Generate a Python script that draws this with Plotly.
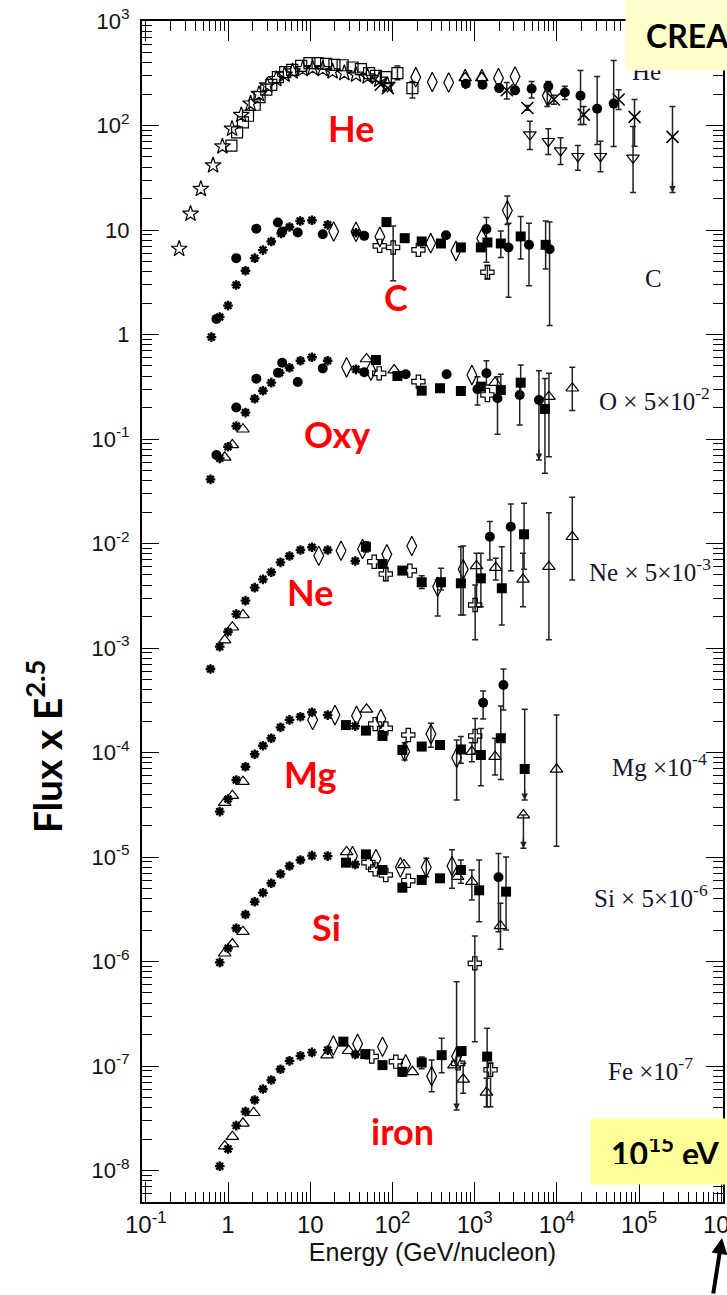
import math
import plotly.graph_objects as go

# Cosmic-ray nuclei spectra, flux x E^2.5 versus kinetic energy per nucleon.
# Points: (E [GeV/n], flux) or (E, flux, lower_end, upper_end) when an error bar is drawn.

HE_STAR = [(0.255, 6.6), (0.35, 14.3), (0.467, 24.7), (0.658, 41.5), (0.855, 63), (1.12, 93),
           (1.45, 126), (1.88, 162), (2.38, 200), (3.0, 242), (3.86, 278), (4.87, 306), (6.1, 329),
           (8.1, 346), (10.7, 354), (14.2, 346), (18.7, 329), (26, 317), (36, 306), (49.8, 294),
           (69, 274), (87, 245)]
HE_OSQ = [(1.10, 64.3), (1.29, 86), (1.52, 107), (1.75, 124), (2.11, 158), (2.42, 187), (2.92, 220),
          (3.36, 245), (4.04, 290), (4.96, 324), (6.03, 341), (7.76, 372), (9.78, 395), (12.3, 395),
          (15.6, 389), (19.7, 381), (24.8, 377), (32.7, 359), (41.4, 346), (52, 317), (63, 299),
          (83, 290), (115, 317, 274, 372), (175, 228, 183, 264)]
HE_TRID = [(57, 284), (87, 237), (4700, 81.9, 58.9, 110), (7870, 70.7, 52.8, 92.9),
           (11100, 57.6, 42.4, 76.2), (18000, 50.8, 37.4, 64.3), (33900, 50.8, 36.1, 70.7),
           (84400, 49.1, 22.8, 98)]
HE_X = [(72, 245), (88, 228), (2460, 217, 179, 258), (4380, 147, 140, 155), (9200, 177, 160, 195),
        (21200, 127, 102, 152), (56400, 177, 142, 220), (88000, 121, 63.4, 177),
        (255000, 77.8, 22.8, 152)]
HE_CIRC = [(782, 251), (1247, 245), (1983, 228), (3100, 217), (4930, 225, 183, 264),
           (7870, 237, 210, 264), (12500, 207, 177, 237), (19400, 193, 102, 336),
           (30900, 145, 65.8, 294), (49100, 162, 63, 419)]
HE_DIA = [(192, 290), (305, 261), (483, 258), (767, 278), (1222, 278), (1950, 284), (3100, 294),
          (7650, 193, 152, 237)]
HE_TRI = [(767, 285), (1222, 286)]

C_AST = [(0.629, 0.944), (0.793, 1.47), (1.0, 1.89), (1.26, 2.98), (1.63, 4.07), (2.11, 5.38),
         (2.66, 6.42), (3.36, 7.77), (4.44, 9.27), (5.6, 10.7), (7.55, 12.2), (10.5, 12.4),
         (16.3, 11.2), (36, 9.4)]
C_CIRC = [(0.723, 1.41), (1.26, 5.38), (2.21, 10.3), (4.04, 11.8), (4.56, 9.68), (7.05, 9.46),
          (14.2, 9.12), (45.4, 8.79), (448, 8.92), (1390, 10.2, 4.9, 13.2), (2580, 6.81, 2.27, 11.6),
          (4580, 7.21, 2.93, 11.6), (8150, 6.56, 1.22, 11.9)]
C_DIA = [(19.3, 9.68), (36, 9.6), (70.3, 8.6), (292, 7.48), (592, 6.32), (1220, 8.3),
         (2500, 15.4, 11.3, 21.1)]
C_SQ = [(84.6, 11.9), (141, 8.35), (227, 7.77), (389, 7.43), (680, 6.81), (1190, 6.81),
        (1430, 7.6), (2080, 7.43, 5.47, 9.8), (3630, 8.67, 5.27, 13.5), (7300, 7.21, 4.23, 12.2)]
C_CROSS = [(70, 7.05), (102, 6.81, 3.27, 10.9), (207, 6.46), (1430, 3.94, 3.4, 4.6)]

O_AST = [(0.612, 0.0411), (0.793, 0.0653), (1.0, 0.0843), (1.26, 0.133), (1.63, 0.179),
         (2.11, 0.243), (2.66, 0.29), (3.36, 0.346), (4.24, 0.431), (5.6, 0.481), (7.6, 0.561),
         (10.5, 0.605), (16.3, 0.561), (36, 0.464)]
O_CIRC = [(0.723, 0.0703), (1.26, 0.2), (2.21, 0.378), (4.04, 0.431), (4.56, 0.537), (7.05, 0.351),
          (14.2, 0.474), (45.4, 0.435), (145, 0.416), (456, 0.416), (1083, 0.3, 0.211, 0.394),
          (1390, 0.425, 0.329, 0.561), (1896, 0.245, 0.111, 0.394), (3530, 0.264, 0.136, 0.367),
          (6050, 0.236, 0.063, 0.451)]
O_TRI = [(0.912, 0.0668), (1.13, 0.0877), (1.52, 0.124), (48.4, 0.583), (105, 0.457),
         (1770, 0.346), (8000, 0.254, 0.0677, 0.425), (15400, 0.306, 0.187, 0.485)]
O_DIA = [(27.7, 0.485), (54.7, 0.451), (925, 0.409)]
O_SQ = [(63, 0.57), (115, 0.401), (227, 0.29), (379, 0.306), (680, 0.288), (1190, 0.317),
        (2080, 0.294, 0.274, 0.416), (3630, 0.346, 0.264, 0.511), (7160, 0.194, 0.047, 0.38)]
O_CROSS = [(69, 0.425), (207, 0.354), (1430, 0.264)]

NE_AST = [(0.612, 6.3e-4), (0.793, 1.03e-3), (1.0, 1.43e-3), (1.26, 2.11e-3), (1.63, 2.84e-3),
          (2.11, 3.78e-3), (2.66, 4.54e-3), (3.36, 5.3e-3), (4.35, 6.6e-3), (5.6, 7.6e-3),
          (7.6, 8.67e-3), (10.5, 9.2e-3), (16.3, 8.67e-3), (35.3, 6.8e-3)]
NE_TRI = [(0.912, 1.19e-3), (1.13, 1.58e-3), (1.52, 2.07e-3), (1054, 0.0061, 0.00248, 0.00805),
          (1807, 0.00587, 0.00448, 0.00721), (3870, 0.00454, 0.00248, 0.00805),
          (8000, 0.006, 0.0012, 0.0197), (15400, 0.0116, 0.00448, 0.0277)]
NE_DIA = [(12.7, 0.00764), (23.7, 0.00853), (43.3, 0.00886), (85.5, 0.00787), (172, 0.00946),
          (355, 0.00386, 0.00202, 0.0045), (726, 0.00566, 0.00207, 0.00946)]
NE_SQ = [(47.6, 0.0093, 0.0083, 0.0104), (75.7, 0.00636), (132, 0.0055), (227, 0.00426, 0.0037, 0.0049),
         (389, 0.00426, 0.00359, 0.0058), (680, 0.00416, 0.00207, 0.0093),
         (1190, 0.00464, 0.00248, 0.00805), (2140, 0.00373, 0.00166, 0.0093),
         (3990, 0.01225, 0.00566, 0.0243)]
NE_CIRC = [(1530, 0.0116, 0.00695, 0.0162), (2750, 0.0145, 0.0055, 0.0239)]
NE_CROSS = [(60, 0.0067), (83, 0.0051, 0.0044, 0.0058), (163, 0.0055), (1014, 0.00258, 0.0012, 0.004)]

MG_AST = [(0.793, 2.72e-5), (1.0, 3.59e-5), (1.26, 5.46e-5), (1.63, 7.31e-5), (2.11, 9.62e-5),
          (2.66, 1.16e-4), (3.36, 1.37e-4), (4.35, 1.74e-4), (5.6, 2.05e-4), (7.6, 2.2e-4),
          (10.5, 2.43e-4), (16.3, 2.28e-4), (35.3, 1.79e-4)]
MG_TRI = [(0.912, 3.31e-5), (1.13, 3.86e-5), (1.52, 5.26e-5), (48.4, 2.59e-4),
          (925, 1.02e-4, 8.17e-5, 1.24e-4), (1770, 9.12e-5, 6.1e-5, 1.37e-4),
          (3920, 2.52e-5, 1.21e-5, 2.52e-5), (9910, 6.9e-5, 1.27e-5, 2.28e-4)]
MG_DIA = [(10.7, 2.05e-4), (20, 2.28e-4), (36.6, 2.25e-4), (72.3, 2.09e-4),
          (141, 1.02e-4, 8.48e-5, 1.24e-4), (294, 1.5e-4, 1.12e-4, 1.9e-4),
          (604, 8.9e-5, 3.51e-5, 1.32e-4)]
MG_SQ = [(27.2, 1.83e-4), (47.6, 1.62e-4), (75.7, 1.44e-4), (132, 1.06e-4), (227, 1.14e-4),
         (379, 1.18e-4), (680, 1.07e-4, 7.88e-5, 1.42e-4), (1190, 9.46e-5, 4.81e-5, 1.7e-4),
         (2080, 1.37e-4, 5.53e-5, 2.79e-4), (4060, 6.95e-5, 3.51e-5, 2.59e-4)]
MG_CIRC = [(1268, 3.0e-4, 2.09e-4, 3.88e-4), (2240, 4.43e-4, 2.55e-4, 6.3e-4)]
MG_CROSS = [(61.7, 1.87e-4), (83, 1.7e-4), (156, 1.47e-4), (1014, 1.44e-4, 9.8e-5, 2.12e-4)]

SI_AST = [(0.793, 9.8e-7), (1.0, 1.34e-6), (1.26, 2.08e-6), (1.63, 2.82e-6), (2.11, 3.73e-6),
          (2.66, 4.55e-6), (3.36, 5.6e-6), (4.35, 6.87e-6), (5.6, 8.2e-6), (7.6, 9.35e-6),
          (10.5, 1.03e-5), (16.3, 1.02e-5), (35.3, 8.5e-6)]
SI_TRI = [(0.912, 1.2e-6), (1.13, 1.47e-6), (1.52, 1.93e-6), (27.7, 1.12e-5), (138, 8.4e-6),
          (620, 6.5e-6), (925, 5.8e-6, 3.88e-6, 7.51e-6), (2060, 2.19e-6, 1.31e-6, 3.6e-6)]
SI_DIA = [(32.7, 1.02e-5), (63, 9.57e-6), (125, 7.96e-6), (258, 7.96e-6, 6.48e-6, 9.72e-6),
          (530, 8.2e-6, 5.01e-6, 1.17e-5)]
SI_SQ = [(27.2, 8.83e-6), (47.6, 1.06e-5), (75.7, 7.51e-6), (132, 5.08e-6), (227, 6.03e-6),
         (379, 6.25e-6), (680, 7.51e-6, 5.6e-6, 9.35e-6), (1135, 4.8e-6, 2.4e-6, 9.35e-6),
         (2410, 4.66e-6, 2.0e-6, 1.0e-5)]
SI_CIRC = [(1950, 6.4e-6, 1.93e-6, 1.08e-5)]
SI_CROSS = [(51, 8.83e-6), (61.7, 7.62e-6), (83, 6.73e-6), (156, 5.93e-6),
            (1005, 9.6e-7, 1.71e-7, 1.75e-6)]

FE_AST = [(0.793, 1.1e-8), (1.0, 1.61e-8), (1.26, 2.69e-8), (1.63, 3.66e-8), (2.11, 4.73e-8),
          (2.66, 6.03e-8), (3.36, 7.35e-8), (4.35, 9.3e-8), (5.6, 1.12e-7), (7.6, 1.25e-7),
          (10.5, 1.35e-7), (16.3, 1.42e-7), (35.3, 1.29e-7)]
FE_TRI = [(0.912, 1.71e-8), (1.13, 2.11e-8), (1.52, 2.83e-8), (2.05, 3.57e-8), (16, 1.27e-7),
          (29.3, 1.4e-7), (175, 8.8e-8), (560, 1.02e-7), (726, 7.46e-8, 5.48e-8, 1.06e-7),
          (1393, 5.6e-8, 4.08e-8, 7.62e-8)]
FE_DIA = [(19.1, 1.57e-7), (37.7, 1.63e-7), (75.7, 1.53e-7), (145, 1.04e-7),
          (300, 8.0e-8, 5.68e-8, 1.14e-7), (603, 1.23e-7, 3.8e-8, 6.4e-7)]
FE_SQ = [(25.3, 1.71e-7), (46.7, 1.3e-7), (75.7, 1.02e-7), (132, 8.8e-8, 8.0e-8, 9.6e-8),
         (227, 1.08e-7, 9.4e-8, 1.22e-7), (397, 1.27e-7, 8.63e-8, 1.84e-7), (694, 1.39e-7),
         (1419, 1.23e-7, 4.08e-8, 2.3e-7)]
FE_CROSS = [(56, 1.23e-7), (110, 1.1e-7), (631, 1.06e-7), (1560, 9.2e-8, 4.08e-8, 1.06e-7)]

# Upper limits: (energy, arrow tip)
UPPER_LIMITS = [(255000, 22.8), (6050, 0.063), (4060, 3.51e-5), (3920, 1.21e-5), (603, 3.8e-8)]

ELEMENT_LABELS = ["He", "C", "Oxy", "Ne", "Mg", "Si", "iron"]
SCALE_LABELS = ["He", "C", "O \u00d7 5\u00d710<sup>-2</sup>", "Ne \u00d7 5\u00d710<sup>-3</sup>",
                "Mg \u00d710<sup>-4</sup>", "Si \u00d7 5\u00d710<sup>-6</sup>", "Fe \u00d710<sup>-7</sup>"]

X_DECADES = list(range(-1, 7))
Y_DECADES = list(range(-8, 4))

# ---- marker styles ----
STYLES = {
    "star": dict(symbol="star-open", size=12, lw=1.2),
    "osq": dict(symbol="square-open", size=11, lw=1.2),
    "ast": dict(symbol="asterisk-open", size=8, lw=2.4),
    "circ": dict(symbol="circle", size=10, lw=0),
    "dia": dict(symbol="diamond-tall-open", size=14, lw=1.2),
    "sq": dict(symbol="square", size=10, lw=0),
    "cross": dict(symbol="cross-open", size=11, lw=1.2),
    "tri": dict(symbol="triangle-up-open", size=11, lw=1.2),
    "trid": dict(symbol="triangle-down-open", size=11, lw=1.2),
    "x": dict(symbol="x-thin-open", size=12, lw=1.5),
}

SERIES = [
    ("star", HE_STAR), ("osq", HE_OSQ), ("trid", HE_TRID), ("x", HE_X), ("circ", HE_CIRC),
    ("dia", HE_DIA), ("tri", HE_TRI),
    ("ast", C_AST), ("circ", C_CIRC), ("dia", C_DIA), ("sq", C_SQ), ("cross", C_CROSS),
    ("ast", O_AST), ("circ", O_CIRC), ("tri", O_TRI), ("dia", O_DIA), ("sq", O_SQ), ("cross", O_CROSS),
    ("ast", NE_AST), ("tri", NE_TRI), ("dia", NE_DIA), ("sq", NE_SQ), ("circ", NE_CIRC), ("cross", NE_CROSS),
    ("ast", MG_AST), ("tri", MG_TRI), ("dia", MG_DIA), ("sq", MG_SQ), ("circ", MG_CIRC), ("cross", MG_CROSS),
    ("ast", SI_AST), ("tri", SI_TRI), ("dia", SI_DIA), ("sq", SI_SQ), ("circ", SI_CIRC), ("cross", SI_CROSS),
    ("ast", FE_AST), ("tri", FE_TRI), ("dia", FE_DIA), ("sq", FE_SQ), ("cross", FE_CROSS),
]

# ---- page geometry (pixels) ----
W, H = 727, 1295
L, R, T, B = 142, 725, 21, 1202


def fx(px):
    return (px - L) / (R - L)


def fy(py):
    return (B - py) / (B - T)


fig = go.Figure()

for key, pts in SERIES:
    st = STYLES[key]
    marker = dict(symbol=st["symbol"], size=st["size"], color="black",
                  line=dict(width=st["lw"], color="black"))
    plain = [p for p in pts if len(p) == 2]
    barred = [p for p in pts if len(p) == 4]
    if barred:
        fig.add_trace(go.Scatter(
            x=[p[0] for p in barred], y=[p[1] for p in barred], mode="markers",
            marker=marker, showlegend=False, hoverinfo="skip",
            error_y=dict(type="data", symmetric=False,
                         array=[p[3] - p[1] for p in barred],
                         arrayminus=[p[1] - p[2] for p in barred],
                         color="#222222", thickness=1.5, width=3)))
    if plain:
        fig.add_trace(go.Scatter(
            x=[p[0] for p in plain], y=[p[1] for p in plain], mode="markers",
            marker=marker, showlegend=False, hoverinfo="skip"))

annotations = []

# arrow heads of the upper limits
for e, tip in UPPER_LIMITS:
    annotations.append(dict(x=math.log10(e), y=math.log10(tip), xref="x", yref="y", text="",
                            showarrow=True, ax=0, ay=-12, arrowhead=2, arrowsize=1,
                            arrowwidth=1.3, arrowcolor="#222222"))

# red element names
red_pos = [(352, 128), (397, 297), (338, 434), (311, 592), (311, 774), (327, 927), (403, 1131)]
for txt, (px, py) in zip(ELEMENT_LABELS, red_pos):
    annotations.append(dict(x=fx(px), y=fy(py), xref="paper", yref="paper", text="<b>%s</b>" % txt,
                            showarrow=False, xanchor="center", yanchor="middle",
                            font=dict(family="Lato", size=36, color="#ff0000")))

# scale factors on the right
scale_pos = [(632, 72), (645, 279), (599, 399), (589, 570), (612, 765), (594, 896), (608, 1069)]
for txt, (px, py) in zip(SCALE_LABELS, scale_pos):
    annotations.append(dict(x=fx(px), y=fy(py), xref="paper", yref="paper", text=txt,
                            showarrow=False, xanchor="left", yanchor="middle",
                            font=dict(family="Liberation Serif", size=25, color="#14142e")))

# y title
annotations.append(dict(x=fx(43), y=fy(746), xref="paper", yref="paper",
                        text="<b>Flux x E<sup>2.5</sup></b>", textangle=-90, showarrow=False,
                        xanchor="center", yanchor="middle",
                        font=dict(family="Lato", size=39, color="black")))

# last decade label of the energy axis, running off the right edge of the page
annotations.append(dict(x=1.0 - (R - 723) / (R - L), y=fy(1206), xref="paper", yref="paper",
                        text="10<sup>%d</sup>" % X_DECADES[-1], showarrow=False,
                        xanchor="center", yanchor="top",
                        font=dict(family="Liberation Sans", size=24, color="#111111")))

# highlighted boxes
annotations.append(dict(x=fx(627), y=fy(0), xref="paper", yref="paper", text="<b>CREAM</b>",
                        showarrow=False, xanchor="left", yanchor="top", align="left",
                        valign="middle", width=160, height=29, borderpad=20,
                        bgcolor="#ffffcc", font=dict(family="Lato", size=32, color="black")))
annotations.append(dict(x=fx(592), y=fy(1118), xref="paper", yref="paper",
                        text="<b>10<sup>15</sup> eV</b>",
                        showarrow=False, xanchor="left", yanchor="top", align="left",
                        valign="middle", width=160, height=25, borderpad=20,
                        bgcolor="#ffff99", font=dict(family="Lato", size=32, color="black")))

# arrow marking the knee energy
annotations.append(dict(x=fx(724), y=fy(1238), xref="paper", yref="paper", text="",
                        showarrow=True, ax=-9, ay=62, arrowhead=2, arrowsize=0.8,
                        arrowwidth=4, arrowcolor="black"))


def sup_label(k):
    if k == 0:
        return "1"
    if k == 1:
        return "10"
    return "10<sup>%d</sup>" % k


def minor_vals(decades):
    return [m * 10.0 ** k for k in range(decades[0] - 1, decades[-1] + 1) for m in range(2, 10)]


fig.update_layout(
    width=W, height=H,
    margin=dict(l=L, r=W - R, t=T, b=H - B, pad=0),
    paper_bgcolor="white", plot_bgcolor="white",
    showlegend=False,
    annotations=annotations,
    xaxis=dict(
        type="log", range=[(L - 228.3) / 82.5, (R - 228.3) / 82.5],
        tickmode="array", tickvals=[10.0 ** k for k in X_DECADES],
        ticktext=[sup_label(k) for k in X_DECADES],
        ticks="inside", ticklen=20, tickwidth=1.3, tickcolor="black",
        minor=dict(ticks="inside", ticklen=10, tickwidth=1.1, tickcolor="black",
                   tickmode="array", tickvals=minor_vals(X_DECADES), showgrid=False),
        showline=True, linewidth=2, linecolor="black", mirror="allticks",
        showgrid=False, zeroline=False,
        tickfont=dict(family="Liberation Sans", size=24, color="#111111"),
        title=dict(text="Energy (GeV/nucleon)", standoff=2,
                   font=dict(family="Liberation Sans", size=25, color="#111111")),
    ),
    yaxis=dict(
        type="log", range=[3 - (B - 21) / 104.5, 3.0],
        tickmode="array", tickvals=[10.0 ** k for k in Y_DECADES],
        ticktext=[sup_label(k) for k in Y_DECADES],
        ticks="inside", ticklen=17, tickwidth=1.3, tickcolor="black",
        minor=dict(ticks="inside", ticklen=10, tickwidth=1.1, tickcolor="black",
                   tickmode="array", tickvals=minor_vals(Y_DECADES), showgrid=False),
        showline=True, linewidth=2, linecolor="black", mirror="allticks",
        showgrid=False, zeroline=False, ticklabelstandoff=6,
        tickfont=dict(family="Liberation Sans", size=22, color="#111111"),
    ),
)

fig.write_html("out.html")
